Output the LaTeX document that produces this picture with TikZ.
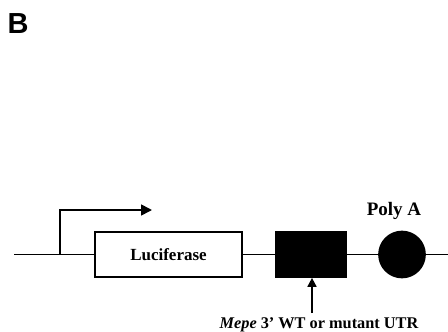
\documentclass[tikz,border=0pt]{standalone}
\usepackage{fontspec}
\setmainfont{Liberation Serif}
\newfontfamily\labelsans{Liberation Sans}
\usetikzlibrary{arrows.meta}
\begin{document}
\begin{tikzpicture}[x=1pt,y=-1pt,
  wire/.style={line width=1.7pt},
  lbl/.style={font=\bfseries\fontsize{17}{19}\selectfont, inner sep=0pt}]
\useasboundingbox (0,0) rectangle (448,332);
\node[font=\labelsans\bfseries\fontsize{29}{30}\selectfont, inner sep=0pt] (B) at (18,24) {B};
\coordinate (start) at (14,254.5);
\coordinate (end) at (448,254.5);
\node[draw, wire, minimum width=147pt, minimum height=45pt, inner sep=0pt, lbl] (luc) at (168.5,254.5) {Luciferase};
\node[draw, fill=black, wire, minimum width=70pt, minimum height=45pt, inner sep=0pt] (utr) at (311,254.5) {};
\node[circle, draw, fill=black, wire, minimum size=46pt, inner sep=0pt] (pa) at (402,254.5) {};
\node[lbl, font=\bfseries\fontsize{19}{21}\selectfont] (polyA) at (394,211) {Poly A};
\coordinate (tss) at (60,254.5);
\coordinate (tip) at (152,210);
\draw[wire] (start) -- (luc.west);
\draw[wire] (luc.east) -- (utr.west);
\draw[wire] (utr.east) -- (pa.west);
\draw[wire] (pa.east) -- (end);
\draw[wire, -{Triangle[length=11pt,width=11pt]}] (tss) |- (tip);
\node[lbl, anchor=base, font=\bfseries\fontsize{16.3}{18}\selectfont] (utrlbl) at (319,328) {\textit{Mepe} 3' WT or mutant UTR};
\coordinate (arrbase) at (312,313);
\draw[wire, -{Triangle[length=9pt,width=9pt]}] (arrbase) -- (utr.south -| arrbase);
\end{tikzpicture}
\end{document}
